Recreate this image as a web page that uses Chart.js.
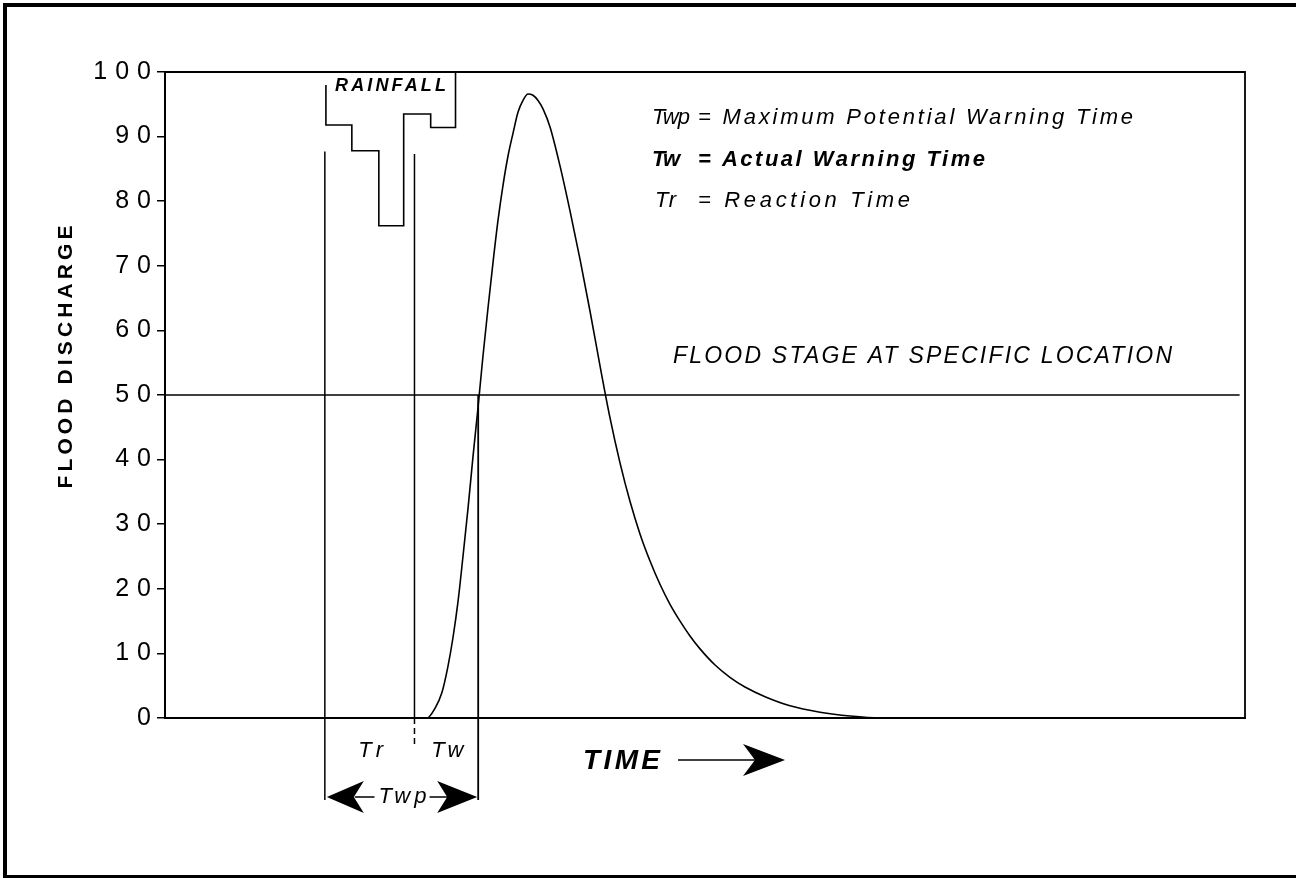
<!DOCTYPE html>
<html>
<head>
<meta charset="utf-8">
<script src="https://cdn.jsdelivr.net/npm/chart.js@4.4.0/dist/chart.umd.min.js"></script>
<style>
html,body{margin:0;padding:0;background:#fff;}
canvas{display:block;}
</style>
</head>
<body>
<canvas id="c" width="1296" height="878"></canvas>
<script>
// ---------------- DATA ----------------
const yTicks = [0, 10, 20, 30, 40, 50, 60, 70, 80, 90, 100];

// flood hydrograph (time units, discharge)
const hydroTime = [0, 23.0, 24.26, 25.0, 25.65, 26.2, 26.67, 27.13, 27.59, 28.06, 28.52, 28.98,
  29.44, 29.91, 30.37, 30.83, 31.3, 31.76, 32.22, 32.69, 33.15, 33.61, 34.07, 34.54, 35.0,
  35.65, 36.57, 37.5, 38.43, 39.35, 40.28, 41.2, 42.13, 43.06, 43.98, 44.91, 45.83, 46.76,
  47.69, 48.61, 49.54, 50.93, 52.31, 53.7, 55.56, 57.87, 60.65, 63.43, 66.2, 100];
const hydroFlow = [0, 0, 0, 1.5, 4, 8, 12.5, 18, 25, 32.5, 40.5, 48,
  56, 63.5, 70.5, 77, 82.5, 87, 90.5, 93.8, 95.6, 96.6, 96.4, 95.6, 94.3,
  91.5, 85.5, 78.5, 71, 63, 54.5, 46.5, 39.5, 33.5, 28.5, 24.3, 20.7, 17.6,
  15, 12.7, 10.7, 8.2, 6.3, 4.8, 3.3, 1.9, 0.9, 0.3, 0, 0];

// rainfall hyetograph hanging from the top (block edges and block bottom levels)
const rainEdges = [14.9, 17.3, 19.8, 22.1, 24.6, 26.9];
const rainLevel = [91.8, 87.8, 76.2, 93.5, 91.4];
const rainBracketTop = 98;

const floodStage = 50;

// warning-time markers (time units)
const markerTr = 14.8;
const markerTw = 23.1;
const markerTwEnd = 29.0;

const legendKeys = ['Twp', 'Tw', 'Tr'];
const legendTexts = ['= Maximum Potential Warning Time', '= Actual Warning Time', '= Reaction Time'];

// ---------------- BUILD ----------------
const hydroPts = hydroTime.map((t, i) => ({x: t, y: hydroFlow[i]}));
const rainPts = [{x: rainEdges[0], y: rainBracketTop}, {x: rainEdges[0], y: rainLevel[0]}];
for (let i = 1; i < rainLevel.length; i++) rainPts.push({x: rainEdges[i], y: rainLevel[i]});
rainPts.push({x: rainEdges[rainEdges.length - 1], y: 100});

const FONT = '"Liberation Sans", Arial, Helvetica, sans-serif';

function fitText(ctx, txt, x, y, w, font, align) {
  ctx.save();
  ctx.font = font;
  ctx.letterSpacing = '0px';
  const m = ctx.measureText(txt).width;
  const sp = txt.length > 1 ? (w - m) / (txt.length - 1) : 0;
  ctx.letterSpacing = sp + 'px';
  ctx.textBaseline = 'middle';
  ctx.textAlign = 'left';
  const x0 = align === 'center' ? x - w / 2 : x;
  ctx.fillStyle = '#000';
  ctx.fillText(txt, x0, y);
  ctx.restore();
}

function stealth(ctx, tipX, y, dir, len, half, notch) {
  ctx.beginPath();
  ctx.moveTo(tipX, y);
  ctx.lineTo(tipX - dir * len, y - half);
  ctx.lineTo(tipX - dir * (len - notch), y);
  ctx.lineTo(tipX - dir * len, y + half);
  ctx.closePath();
  ctx.fill();
}

function vline(ctx, x, y1, y2, w, dash) {
  ctx.save();
  ctx.lineWidth = w;
  ctx.setLineDash(dash || []);
  ctx.beginPath();
  ctx.moveTo(x, y1);
  ctx.lineTo(x, y2);
  ctx.stroke();
  ctx.restore();
}

const annot = {
  id: 'annot',
  beforeDraw(chart) { chart.ctx.letterSpacing = '8px'; },
  beforeDatasetsDraw(chart) { chart.ctx.letterSpacing = '0px'; },
  afterDraw(chart) {
    const ctx = chart.ctx;
    const xs = chart.scales.x, ys = chart.scales.y;
    const a = chart.chartArea;
    ctx.save();
    ctx.letterSpacing = '0px';
    ctx.strokeStyle = '#000';
    ctx.fillStyle = '#000';

    // frame: top & right
    ctx.lineWidth = 1.8;
    ctx.beginPath();
    ctx.moveTo(a.left, a.top);
    ctx.lineTo(a.right, a.top);
    ctx.lineTo(a.right, a.bottom);
    ctx.stroke();

    // marker lines
    const xTr = xs.getPixelForValue(markerTr);
    const xTw = xs.getPixelForValue(markerTw);
    const xTe = xs.getPixelForValue(markerTwEnd);
    vline(ctx, xTr, ys.getPixelForValue(87.7), a.bottom + 82, 1.5);
    vline(ctx, xTw, ys.getPixelForValue(87.3), a.bottom, 1.5);
    vline(ctx, xTw, a.bottom, a.bottom + 27, 1.5, [6, 4]);
    vline(ctx, xTe, ys.getPixelForValue(floodStage), a.bottom + 82, 1.8);

    // Twp double arrow
    const ay = a.bottom + 79;
    stealth(ctx, xTr + 2, ay, -1, 37, 16, 10);
    stealth(ctx, xTe - 1, ay, 1, 40, 16, 10);
    const mid = (xTr + xTe) / 2 + 1;
    ctx.lineWidth = 1.5;
    ctx.beginPath();
    ctx.moveTo(xTr + 30, ay); ctx.lineTo(mid - 28, ay);
    ctx.moveTo(mid + 27, ay); ctx.lineTo(xTe - 30, ay);
    ctx.stroke();
    fitText(ctx, 'Twp', mid, ay, 48, 'italic 22px ' + FONT, 'center');

    // Tr / Tw labels
    fitText(ctx, 'Tr', (xTr + xTw) / 2 + 1, a.bottom + 33, 25, 'italic 22px ' + FONT, 'center');
    fitText(ctx, 'Tw', (xTw + xTe) / 2 + 1, a.bottom + 33, 32, 'italic 22px ' + FONT, 'center');

    // TIME arrow
    fitText(ctx, 'TIME', 583, a.bottom + 43, 77, 'italic bold 28px ' + FONT, 'left');
    ctx.lineWidth = 1.5;
    ctx.beginPath();
    ctx.moveTo(678, a.bottom + 42); ctx.lineTo(765, a.bottom + 42);
    ctx.stroke();
    stealth(ctx, 785, a.bottom + 42, 1, 42, 16, 12);

    // rainfall label
    fitText(ctx, 'RAINFALL', 335, 86, 111, 'italic bold 18px ' + FONT, 'left');

    // flood stage label
    fitText(ctx, 'FLOOD STAGE AT SPECIFIC LOCATION', 673, 357, 499, 'italic 23px ' + FONT, 'left');

    // legend
    const ly = [118, 160, 201];
    const kx = [652, 652, 655];
    const kw = [38, 28, 21];
    const tw = [435, 287, 212];
    for (let i = 0; i < legendKeys.length; i++) {
      const bold = i === 1 ? 'bold ' : '';
      fitText(ctx, legendKeys[i], kx[i], ly[i], kw[i], 'italic ' + bold + '22px ' + FONT, 'left');
      fitText(ctx, legendTexts[i], 698, ly[i], tw[i], 'italic ' + bold + '22px ' + FONT, 'left');
    }

    // y axis title
    ctx.save();
    ctx.translate(66, 357);
    ctx.rotate(-Math.PI / 2);
    fitText(ctx, 'FLOOD DISCHARGE', 0, 0, 263, 'bold 21px ' + FONT, 'center');
    ctx.restore();

    // outer border
    ctx.lineWidth = 4;
    ctx.strokeRect(5, 5, 1300, 872);
    ctx.restore();
  }
};

new Chart(document.getElementById('c'), {
  type: 'line',
  data: {
    datasets: [
      {label: 'Flood hydrograph', data: hydroPts, borderColor: '#000', borderWidth: 1.6,
       pointRadius: 0, cubicInterpolationMode: 'monotone', clip: false},
      {label: 'Flood stage', data: [{x: 0, y: floodStage}, {x: 99.5, y: floodStage}],
       borderColor: '#000', borderWidth: 1.6, pointRadius: 0},
      {label: 'Rainfall', data: rainPts, stepped: true, borderColor: '#000', borderWidth: 1.6,
       pointRadius: 0, clip: false}
    ]
  },
  options: {
    responsive: false,
    devicePixelRatio: 1,
    animation: false,
    events: [],
    layout: {padding: {left: 0, right: 51, top: 72, bottom: 160}},
    plugins: {legend: {display: false}, tooltip: {enabled: false}},
    scales: {
      x: {
        type: 'linear', min: 0, max: 100,
        ticks: {display: false},
        grid: {display: false, drawTicks: false},
        border: {display: true, color: '#000', width: 2},
        afterFit(s) { s.height = 0; }
      },
      y: {
        type: 'linear', min: 0, max: 100,
        afterBuildTicks(s) { s.ticks = yTicks.map(v => ({value: v})); },
        ticks: {color: '#000', font: {family: FONT, size: 25}, padding: -2},
        grid: {drawOnChartArea: false, drawTicks: true, tickLength: 8, color: '#000', lineWidth: 1.5},
        border: {display: true, color: '#000', width: 2},
        afterFit(s) { s.width = 165; }
      }
    }
  },
  plugins: [annot]
});
</script>
</body>
</html>
